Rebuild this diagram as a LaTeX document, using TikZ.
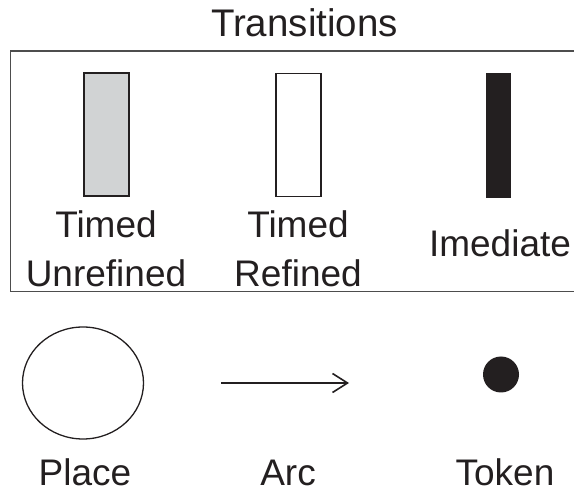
\documentclass[tikz,border=0pt]{standalone}
\usepackage{fontspec}
\setmainfont{Liberation Sans}
\usetikzlibrary{arrows.meta,shapes.geometric}
\definecolor{ink}{HTML}{231F20}
\definecolor{paleg}{HTML}{D1D3D4}
\definecolor{frameg}{HTML}{4D4D4D}
\begin{document}
\begin{tikzpicture}[x=1pt,y=-1pt,
  lbl/.style={font=\fontsize{37}{45}\selectfont, text=ink, inner sep=0pt},
  bar/.style={draw=ink, line width=1.3pt, minimum width=45pt, minimum height=123pt, inner sep=0pt, outer sep=0pt},
  frameline/.style={draw=frameg, line width=1.1pt}]
  \useasboundingbox (0,0) rectangle (574,489);
  \clip (0,0) rectangle (574,489);

  % heading
  \node[lbl, anchor=base, font=\fontsize{38.5}{45}\selectfont] (title) at (304.5,37) {Transitions};

  % legend frame for the transition kinds
  \draw[frameline] (600,51) -- (10.5,51) -- (10.5,291.5) -- (600,291.5);

  % transition bars
  \node[bar, fill=paleg] (tu) at (106.5,134.5) {};
  \node[bar, fill=white] (tr) at (298.5,135) {};
  \node[bar, fill=ink, draw=none, minimum width=25pt, minimum height=125pt] (ti) at (498.5,135.5) {};

  \node[lbl, anchor=base] (lu1) at (106,238) {Timed};
  \node[lbl, anchor=base] (lu2) at (106,286.5) {Unrefined};
  \node[lbl, anchor=base] (lr1) at (298,238) {Timed};
  \node[lbl, anchor=base] (lr2) at (298,286.5) {Refined};
  \node[lbl, anchor=base] (li) at (500,257) {Imediate};

  % place, arc and token
  \node[draw=ink, line width=1.3pt, ellipse, minimum width=121pt, minimum height=112pt, inner sep=0pt] (place) at (83,383) {};
  \coordinate (a0) at (221,383);
  \coordinate (a1) at (349,383);
  \draw[ink, line width=1.6pt, -{Straight Barb[length=15pt,width=19pt,line width=1.6pt]}] (a0) -- (a1);
  \node[circle, fill=ink, minimum size=36pt, inner sep=0pt] (token) at (501,374.5) {};

  \node[lbl, anchor=base] (lp) at (85,485.5) {Place};
  \node[lbl, anchor=base] (la) at (288,485.5) {Arc};
  \node[lbl, anchor=base] (lt) at (505,485.5) {Token};
\end{tikzpicture}
\end{document}
